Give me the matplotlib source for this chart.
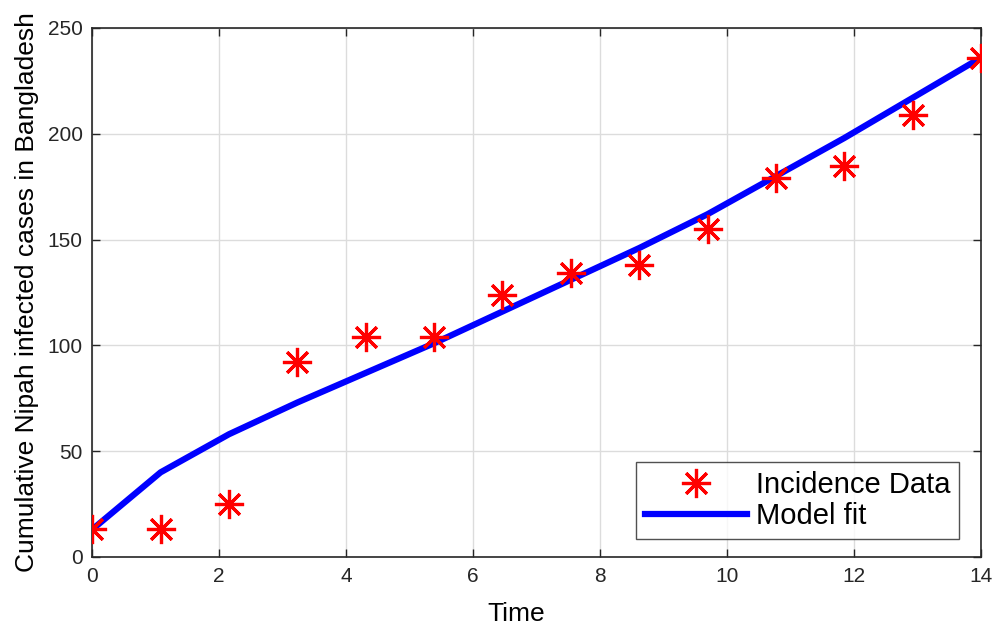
import numpy as np
import matplotlib
matplotlib.use("Agg")
import matplotlib.pyplot as plt

plt.rcParams['font.family'] = ['Liberation Sans', 'DejaVu Sans']

# Data
time = np.linspace(0, 14, 14)
incidence = [13, 13, 25, 92, 104, 104, 124, 134, 138, 155, 179, 185, 209, 236]
model_fit = [13, 40, 58, 73, 87, 101, 116, 131, 146, 162, 180, 198, 217, 236]

xticks = [0, 2, 4, 6, 8, 10, 12, 14]
yticks = [0, 50, 100, 150, 200, 250]

fig = plt.figure(figsize=(9.97, 6.29), dpi=100)
ax = fig.add_axes([0.0925, 0.1145, 0.8915, 0.841])

ax.plot(time, incidence, linestyle='none', marker=(8, 2, 0), markersize=21,
        markeredgewidth=2.3, color='#ff0000', label='Incidence Data', zorder=3)
ax.plot(time, model_fit, color='#0000ff', linewidth=4.5, label='Model fit', zorder=2)

ax.set_xlim(0, 14)
ax.set_ylim(0, 250)
ax.set_xticks(xticks)
ax.set_yticks(yticks)
ax.grid(True, color='#dcdcdc', linewidth=1)
ax.set_axisbelow(True)
ax.tick_params(direction='in', top=True, right=True, length=6, width=1,
               labelsize=15, colors='#262626', pad=7)
for s in ax.spines.values():
    s.set_color('#262626')
    s.set_linewidth(1.2)

ax.set_xlabel('Time', fontsize=19, labelpad=12)
ax.xaxis.set_label_coords(0.477, -0.085)
ax.set_ylabel('Cumulative Nipah infected cases in Bangladesh', fontsize=19, labelpad=6)

leg = ax.legend(loc='lower right', bbox_to_anchor=(0.975, 0.034), borderaxespad=0,
                fontsize=21, frameon=True, fancybox=False, handlelength=3.5,
                handletextpad=0.3, labelspacing=0.12, borderpad=0.3)
leg.get_frame().set_edgecolor('#262626')
leg.get_frame().set_linewidth(1)

fig.savefig('out.png', dpi=100)
